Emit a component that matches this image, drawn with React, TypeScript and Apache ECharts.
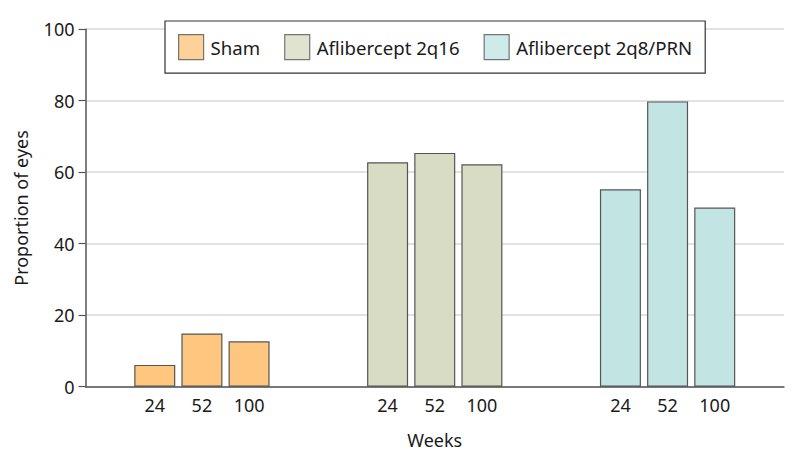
import React, { useEffect, useRef } from "react";
import * as echarts from "echarts";

const groups = ["Sham", "Aflibercept 2q16", "Aflibercept 2q8/PRN"];
const weeks = ["24", "52", "100"];
const sham = [6.1, 14.9, 12.7];
const q16 = [62.8, 65.4, 62.2];
const q8 = [55.2, 79.8, 50.1];
const yTicks = [0, 20, 40, 60, 80, 100];

const groupColors = ["#FEC67E", "#D9DCC5", "#C2E5E4"];
const FONT = "Noto Sans";
const TEXT = "#1a1a1a";

export default function App() {
  const ref = useRef<HTMLDivElement>(null);
  useEffect(() => {
    if (!ref.current) return;
    const chart = echarts.init(ref.current, undefined, { renderer: "svg" });
    const groupValues = [sham, q16, q8];
    const barSeries = weeks.map((w, wi) => ({
      type: "bar",
      name: w,
      barWidth: 41,
      barGap: "15%",
      data: groupValues.map((vals, gi) => ({
        value: vals[wi],
        itemStyle: { color: groupColors[gi], borderColor: "#555", borderWidth: 1.2 },
      })),
      label: {
        show: true,
        position: "bottom",
        distance: 9,
        formatter: () => w,
        fontFamily: FONT,
        fontSize: 18,
        color: TEXT,
      },
      emphasis: { disabled: true },
    }));
    const legendSeries = groups.map((g, gi) => ({
      type: "scatter",
      name: g,
      data: [],
      itemStyle: { color: groupColors[gi], borderColor: "#555", borderWidth: 1.2 },
    }));
    chart.setOption({
      animation: false,
      grid: { left: 85.5, right: 10, top: 29.2, bottom: 82.3, containLabel: false },
      legend: {
        data: groups.map((g, gi) => ({
          name: g,
          icon: "rect",
          itemStyle: { color: groupColors[gi], borderColor: "#555", borderWidth: 1.2 },
        })),
        left: 165,
        top: 21,
        padding: [13, 13, 13, 13],
        itemWidth: 25,
        itemHeight: 25,
        itemGap: 24,
        borderColor: "#333",
        borderWidth: 1.2,
        backgroundColor: "#fff",
        textStyle: { fontFamily: FONT, fontSize: 18.6, color: TEXT, padding: [0, 0, 0, 2] },
        selectedMode: false,
      },
      xAxis: {
        type: "category",
        data: groups,
        axisLine: { lineStyle: { color: "#555", width: 1.5 } },
        axisTick: { show: false },
        axisLabel: { show: false },
        name: "Weeks",
        nameLocation: "middle",
        nameGap: 44,
        nameTextStyle: { fontFamily: FONT, fontSize: 18, color: TEXT },
      },
      yAxis: {
        type: "value",
        min: yTicks[0],
        max: yTicks[yTicks.length - 1],
        interval: 20,
        axisLine: { show: true, lineStyle: { color: "#555", width: 1.5 } },
        axisTick: { show: true, length: 7, lineStyle: { color: "#555", width: 1.2 } },
        axisLabel: { fontFamily: FONT, fontSize: 18, color: TEXT, margin: 11 },
        splitLine: { lineStyle: { color: "#d9d9d9", width: 1.5 } },
        name: "Proportion of eyes",
        nameLocation: "middle",
        nameGap: 56,
        nameTextStyle: { fontFamily: FONT, fontSize: 18, color: TEXT },
      },
      series: [...barSeries, ...legendSeries],
    });
    return () => chart.dispose();
  }, []);
  return <div ref={ref} style={{ width: 794, height: 469, position: "absolute", left: 0, top: 0 }} />;
}
